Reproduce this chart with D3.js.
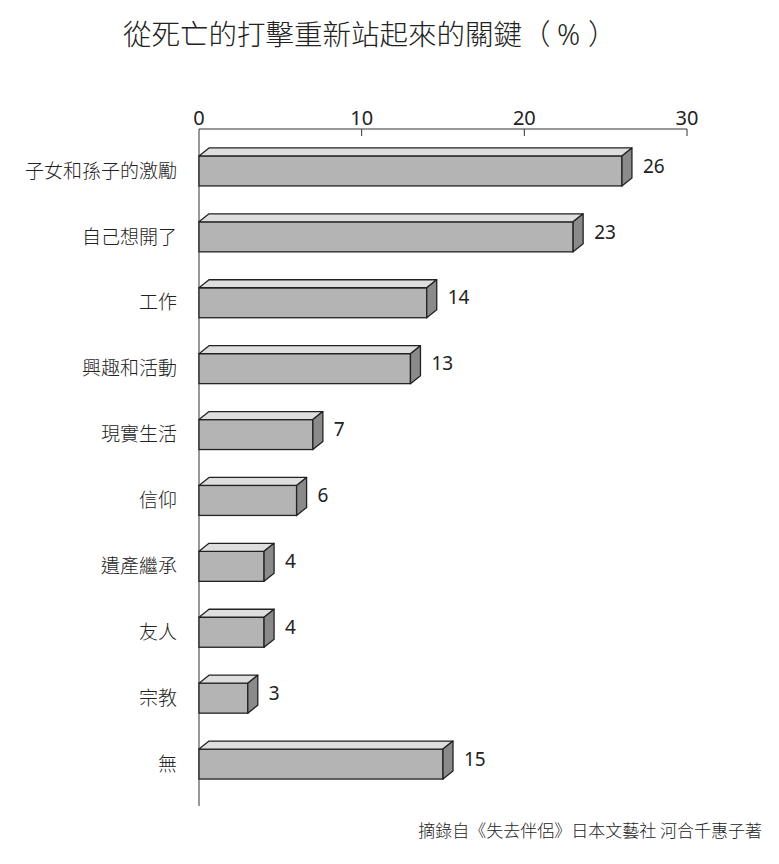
<!DOCTYPE html>
<html>
<head>
<meta charset="utf-8">
<script src="https://cdn.jsdelivr.net/npm/d3@7"></script>
<style>
  body { margin: 0; background: #fff; }
  svg text { font-family: "Noto Sans CJK TC", "Noto Sans", sans-serif; fill: #222; }
</style>
</head>
<body>
<svg id="chart" width="779" height="864"></svg>
<script>
// data
const categories = ["子女和孫子的激勵", "自己想開了", "工作", "興趣和活動", "現實生活", "信仰", "遺產繼承", "友人", "宗教", "無"];
const values = [26, 23, 14, 13, 7, 6, 4, 4, 3, 15];
const tick_values = [0, 10, 20, 30];
const title_text = "從死亡的打擊重新站起來的關鍵";
const title_unit = ["（", "%", "）"];
const source_text = "摘錄自《失去伴侶》日本文藝社 河合千惠子著";

const svg = d3.select("#chart");

const x = d3.scaleLinear().domain([0, 30]).range([199, 687]);
const y = d3.scaleBand().domain(categories).range([138, 797])
    .paddingInner(0.545).paddingOuter(0.2725);

const depth_x = 10, depth_y = 8;
const axis_top = 129, axis_bottom = 806;

// title, unit spaced out like the original
const title = svg.append("text")
    .attr("x", 123).attr("y", 45)
    .style("font-size", "28.5px")
    .style("font-weight", 300);
title.append("tspan").text(title_text);
title.append("tspan").text(title_unit[0]);
title.append("tspan").attr("x", 557)
    .style("font-family", "'Noto Sans', sans-serif")
    .text(title_unit[1]);
title.append("tspan").attr("x", 588).text(title_unit[2]);

// top axis
const axis_g = svg.append("g");
axis_g.append("line")
    .attr("x1", x(0)).attr("x2", x(30))
    .attr("y1", axis_top).attr("y2", axis_top)
    .attr("stroke", "#333").attr("stroke-width", 1);
axis_g.append("line")
    .attr("x1", x(0)).attr("x2", x(0))
    .attr("y1", axis_top).attr("y2", axis_bottom)
    .attr("stroke", "#333").attr("stroke-width", 1);
axis_g.selectAll(".tick").data(tick_values.slice(1)).enter()
    .append("line")
    .attr("x1", d => x(d)).attr("x2", d => x(d))
    .attr("y1", axis_top).attr("y2", axis_top + 7)
    .attr("stroke", "#333").attr("stroke-width", 1);
axis_g.selectAll(".tick_label").data(tick_values).enter()
    .append("text")
    .attr("x", d => x(d)).attr("y", axis_top - 4)
    .attr("text-anchor", "middle")
    .style("font-family", "'Noto Sans', sans-serif")
    .style("font-size", "20px")
    .text(d => d);

// bars as 3D boxes
const bars = svg.selectAll(".bar").data(values).enter()
    .append("g").attr("class", "bar");

function top_face(d, i) {
    let y0 = y(categories[i]);
    let x0 = x(0), x1 = x(d);
    return `M${x0},${y0} L${x0 + depth_x},${y0 - depth_y} L${x1 + depth_x},${y0 - depth_y} L${x1},${y0} Z`;
}
function side_face(d, i) {
    let y0 = y(categories[i]), y1 = y0 + y.bandwidth();
    let x1 = x(d);
    return `M${x1},${y0} L${x1 + depth_x},${y0 - depth_y} L${x1 + depth_x},${y1 - depth_y} L${x1},${y1} Z`;
}

bars.append("rect")
    .attr("x", x(0))
    .attr("y", (d, i) => y(categories[i]))
    .attr("width", d => x(d) - x(0))
    .attr("height", y.bandwidth())
    .attr("fill", "#b4b4b4")
    .attr("stroke", "#222").attr("stroke-width", 1.3);
bars.append("path")
    .attr("d", top_face)
    .attr("fill", "#dedede")
    .attr("stroke", "#222").attr("stroke-width", 1.3)
    .attr("stroke-linejoin", "round");
bars.append("path")
    .attr("d", side_face)
    .attr("fill", "#8a8a8a")
    .attr("stroke", "#222").attr("stroke-width", 1.3)
    .attr("stroke-linejoin", "round");

// value labels
bars.append("text")
    .attr("x", d => x(d) + depth_x + 11)
    .attr("y", (d, i) => y(categories[i]) + (y.bandwidth() - depth_y) / 2 - 1)
    .attr("dy", "0.35em")
    .style("font-family", "'Noto Sans', sans-serif")
    .style("font-size", "19px")
    .text(d => d);

// category labels
svg.selectAll(".cat").data(categories).enter()
    .append("text")
    .attr("x", 177)
    .attr("y", d => y(d) + y.bandwidth() / 2)
    .attr("dy", "0.35em")
    .attr("text-anchor", "end")
    .style("font-size", "19px")
    .style("font-weight", 300)
    .text(d => d);

// source note
svg.append("text")
    .attr("x", 762).attr("y", 837)
    .attr("text-anchor", "end")
    .style("font-size", "17px")
    .style("font-weight", 300)
    .text(source_text);
</script>
</body>
</html>
